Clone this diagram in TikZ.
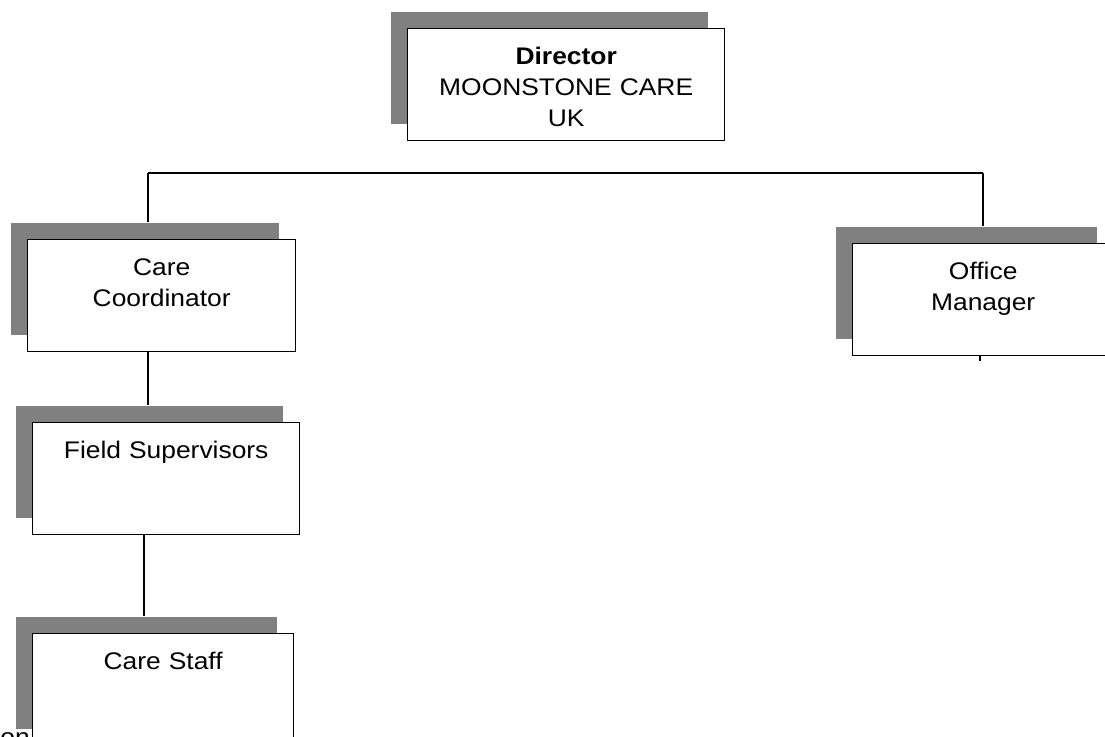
\documentclass[tikz,border=0pt]{standalone}
\usepackage{fontspec}
\setmainfont[FakeStretch=1.1]{Liberation Sans}
\usetikzlibrary{shadows}
\definecolor{shadowgray}{RGB}{128,128,128}

\begin{document}
\begin{tikzpicture}[x=1pt,y=-1pt,
  post/.style={draw, fill=white, line width=1.4pt, inner sep=0pt,
    text width=#1pt, align=center, text height=36pt, text depth=76pt,
    font=\fontsize{24}{31}\selectfont,
    copy shadow={shadow xshift=-17pt, shadow yshift=17pt, fill=shadowgray, draw=none}},
  link/.style={line width=1.2pt}]
\clip (0,0) rectangle (1105,736);
\fill[white] (0,0) rectangle (1105,736);
\node [post=317, anchor=north west] (dir) at (407,28) {\textbf{Director}\\MOONSTONE CARE\\UK};
\node [post=268, anchor=north west] (cc) at (27,239) {Care\\Coordinator};
\node [post=261, anchor=north west] (om) at (852,243) {Office\\Manager};
\node [post=267, anchor=north west] (fs) at (32,422) {Field Supervisors};
\node [post=261, anchor=north west] (cs) at (32,633) {Care Staff};
\node [fill=white, inner sep=0pt, anchor=base east, font=\fontsize{24}{31}\selectfont] (frag) at (30,745) {on};
% connectors
\coordinate (barL) at (148,173);
\coordinate (barR) at (983,173);
\draw [line width=2pt] (barL) -- (barR);
\draw [link] (barL) -- ([yshift=17pt]cc.north -| barL);
\draw [link] (barR) -- ([yshift=17pt]om.north -| barR);
\draw [link, line width=1.6pt] (cc.south -| barL) -- ([yshift=17pt]fs.north -| barL);
\coordinate (staff) at (144,0);
\draw [link] (fs.south -| staff) -- ([yshift=17pt]cs.north -| staff);
\draw [link] ([xshift=-3pt]om.south -| barR) -- ++(0,5);
\end{tikzpicture}
\end{document}
